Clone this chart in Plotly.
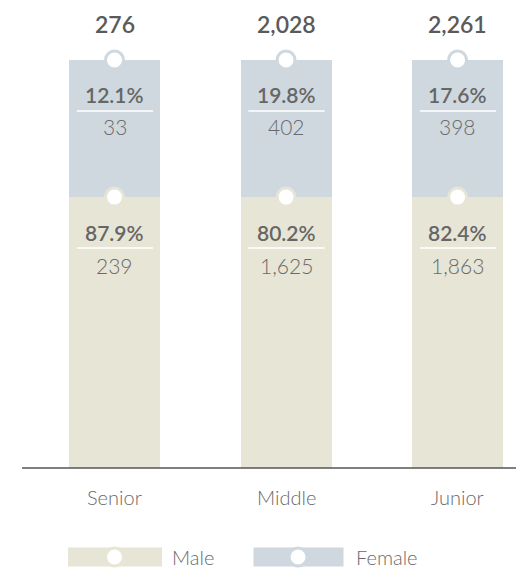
import plotly.graph_objects as go

# Headcount by level, split by gender
levels = ["Senior", "Middle", "Junior"]
totals = [276, 2028, 2261]
male_counts = [239, 1625, 1863]
female_counts = [33, 402, 398]
male_pct = [87.9, 80.2, 82.4]
female_pct = [12.1, 19.8, 17.6]

# Each bar is a 100% column split into two fixed-height panels
MALE_PANEL = 0.664
FEMALE_PANEL = 1 - MALE_PANEL

MALE_COLOR = "#e6e5d6"
FEMALE_COLOR = "#cfd8df"
FONT = "Lato"
LIGHT_TEXT = "#6a6a6a"

xs = list(range(len(levels)))
BAR_W = 0.53

fig = go.Figure()
fig.add_trace(go.Bar(x=xs, y=[MALE_PANEL] * len(xs), width=BAR_W,
                     marker=dict(color=MALE_COLOR, line=dict(width=0)),
                     name="Male", hoverinfo="skip"))
fig.add_trace(go.Bar(x=xs, y=[FEMALE_PANEL] * len(xs), base=[MALE_PANEL] * len(xs),
                     width=BAR_W, marker=dict(color=FEMALE_COLOR, line=dict(width=0)),
                     name="Female", hoverinfo="skip"))

# Ring markers at the top of each panel
fig.add_trace(go.Scatter(x=xs, y=[MALE_PANEL] * len(xs), mode="markers",
                         marker=dict(size=18, color="white",
                                     line=dict(color=MALE_COLOR, width=3)),
                         hoverinfo="skip", cliponaxis=False))
fig.add_trace(go.Scatter(x=xs, y=[1] * len(xs), mode="markers",
                         marker=dict(size=18, color="white",
                                     line=dict(color=FEMALE_COLOR, width=3)),
                         hoverinfo="skip", cliponaxis=False))

annotations = []
shapes = []


def ann(x, y, text, size, color, yshift, weight="normal"):
    annotations.append(dict(x=x, y=y, xref="x", yref="y", text=text, showarrow=False,
                            yshift=yshift, xanchor="center", yanchor="middle",
                            font=dict(family=FONT, size=size, color=color, weight=weight)))


for i in xs:
    ann(i, 1, f"{totals[i]:,}", 23, "#5a5a5a", 36, 600)
    ann(i, 1, f"{female_pct[i]:.1f}%", 21, "#666666", -34, 600)
    ann(i, 1, f"{female_counts[i]:,}", 21, LIGHT_TEXT, -66, 300)
    ann(i, MALE_PANEL, f"{male_pct[i]:.1f}%", 21, "#666666", -35, 600)
    ann(i, MALE_PANEL, f"{male_counts[i]:,}", 21, LIGHT_TEXT, -68, 300)
    ann(i, 0, levels[i], 20, LIGHT_TEXT, -29, 300)
    for top in (1, MALE_PANEL):
        shapes.append(dict(type="line", xref="x", yref="y", ysizemode="pixel",
                           yanchor=top, y0=-51, y1=-51, x0=i - 0.22, x1=i + 0.225,
                           line=dict(color="white", width=1.5)))

# Baseline
shapes.append(dict(type="line", xref="paper", yref="y", x0=22 / 516, x1=1, y0=0, y1=0,
                   line=dict(color="#555555", width=1.5)))

# Legend: swatch with ring, then label
LEG_Y = -0.218
for x0, x1, cx, color, label, lx in [
    (-0.271, 0.277, 0.0, MALE_COLOR, "Male", 0.325),
    (0.810, 1.335, 1.07, FEMALE_COLOR, "Female", 1.395),
]:
    shapes.append(dict(type="rect", xref="x", yref="y", ysizemode="pixel", yanchor=LEG_Y,
                       y0=-9.5, y1=9.5, x0=x0, x1=x1, fillcolor=color, line=dict(width=0)))
    shapes.append(dict(type="circle", xref="x", yref="y", xsizemode="pixel",
                       ysizemode="pixel", xanchor=cx, yanchor=LEG_Y,
                       x0=-9, x1=9, y0=-9, y1=9, fillcolor="white",
                       line=dict(color=color, width=3)))
    annotations.append(dict(x=lx, y=LEG_Y, xref="x", yref="y", text=label, showarrow=False,
                            xanchor="left", yanchor="middle",
                            font=dict(family=FONT, size=20, color=LIGHT_TEXT, weight=300)))

fig.update_layout(
    width=516, height=569,
    margin=dict(l=0, r=0, t=0, b=0),
    paper_bgcolor="white", plot_bgcolor="white",
    barmode="overlay", showlegend=False, bargap=0,
    xaxis=dict(range=[-0.6676, 2.3406], visible=False, fixedrange=True),
    yaxis=dict(range=[-0.2475, 1.1471], visible=False, fixedrange=True),
    annotations=annotations, shapes=shapes,
)

fig.write_html("out.html", config={"displayModeBar": False})
